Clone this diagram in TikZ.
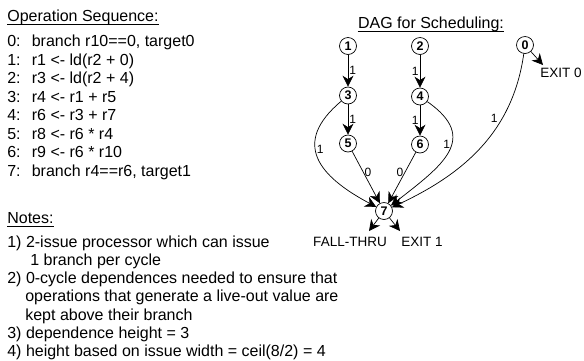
\documentclass[tikz,border=0pt]{standalone}
\usepackage{fontspec}
\setmainfont{Liberation Sans}
\usepackage{tikz}
\usetikzlibrary{arrows.meta}
\definecolor{ink}{HTML}{000000}

\begin{document}
\begin{tikzpicture}[x=1pt,y=-1pt,line width=0.7pt,
  txt/.style={anchor=base west,inner sep=0pt,font=\fontsize{16}{18}\selectfont},
  lbl/.style={anchor=base,inner sep=0pt,font=\fontsize{13.5}{16}\selectfont},
  dagnode/.style={circle,draw=ink,minimum size=17pt,inner sep=0pt,fill=white,font=\fontsize{12.5}{14}\selectfont\bfseries},
  wt/.style={inner sep=1pt,font=\fontsize{12}{14}\selectfont},
  dep/.style={ink,-{Stealth[length=11pt,width=11pt,inset=3.5pt]}},
  uline/.style={ink,line width=0.6pt}]
  \useasboundingbox (0,0) rectangle (584,360);
  % operation sequence
  \node[txt] (opseq) at (7,21) {Operation Sequence:};
  \draw[uline] ([yshift=-3pt]opseq.base west)--([yshift=-3pt]opseq.base east);
  \foreach \op [count=\i from 0] in {{branch r10==0, target0},{r1 <- ld(r2 + 0)},{r3 <- ld(r2 + 4)},{r4 <- r1 + r5},{r6 <- r3 + r7},{r8 <- r6 * r4},{r9 <- r6 * r10},{branch r4==r6, target1}}
    \node[txt] (seq\i) at (7,{46.5+18.5*\i}) {\makebox[24.5pt][l]{\i:}\op};
  % notes
  \node[txt] (notes) at (7,223) {Notes:};
  \draw[uline] ([yshift=-3pt]notes.base west)--([yshift=-3pt]notes.base east);
  \node[txt] (note1a) at (7,247) {1) 2-issue processor which can issue};
  \node[txt] (note1b) at (30,265.3) {1 branch per cycle};
  \node[txt] (note2a) at (7,283.6) {2) 0-cycle dependences needed to ensure that};
  \node[txt] (note2b) at (25,301.9) {operations that generate a live-out value are};
  \node[txt] (note2c) at (25,320.2) {kept above their branch};
  \node[txt] (note3) at (7,338.5) {3) dependence height = 3};
  \node[txt] (note4) at (7,356.8) {4) height based on issue width = ceil(8/2) = 4};
  % dag
  \node[txt,anchor=base] (dagtitle) at (431,28) {DAG for Scheduling:};
  \draw[uline] ([yshift=-3pt]dagtitle.base west)--([yshift=-3pt]dagtitle.base east);
  \node[dagnode] (op1) at (348,46) {1};
  \node[dagnode] (op2) at (420,46) {2};
  \node[dagnode] (op0) at (525,45) {0};
  \node[dagnode] (op3) at (348,95.5) {3};
  \node[dagnode] (op4) at (420,96.5) {4};
  \node[dagnode] (op5) at (348,143.5) {5};
  \node[dagnode] (op6) at (420,144.5) {6};
  \node[dagnode] (op7) at (384,211) {7};
  \node[lbl] (exit0) at (561,77) {EXIT 0};
  \node[lbl] (fallthru) at (350,246) {FALL-THRU};
  \node[lbl] (exit1) at (422,246) {EXIT 1};
  \coordinate (tip0) at (543,65);
  \coordinate (tipft) at (369,231);
  \coordinate (tipx1) at (400,231);
  \draw[dep] (op1)--node[wt,right]{1}(op3);
  \draw[dep] (op2)--node[wt,left]{1}(op4);
  \draw[dep] (op3)--node[wt,right]{1}(op5);
  \draw[dep] (op4)--node[wt,left]{1}(op6);
  \draw[dep] (op5)--node[wt,pos=0.4,right]{0}(op7);
  \draw[dep] (op6)--node[wt,pos=0.4,left]{0}(op7);
  \draw[dep] (op3) to[out=220,in=152,looseness=1.5] node[wt,pos=0.42,right]{1} (op7);
  \draw[dep] (op4) to[out=-35,in=38,looseness=1.5] node[wt,pos=0.42,left]{1} (op7);
  \draw[dep] (op0) to[out=262,in=25] node[wt,pos=0.35,above left]{1} (op7);
  \draw[dep] (op0)--(tip0);
  \draw[dep] (op7)--(tipft);
  \draw[dep] (op7)--(tipx1);
\end{tikzpicture}
\end{document}
